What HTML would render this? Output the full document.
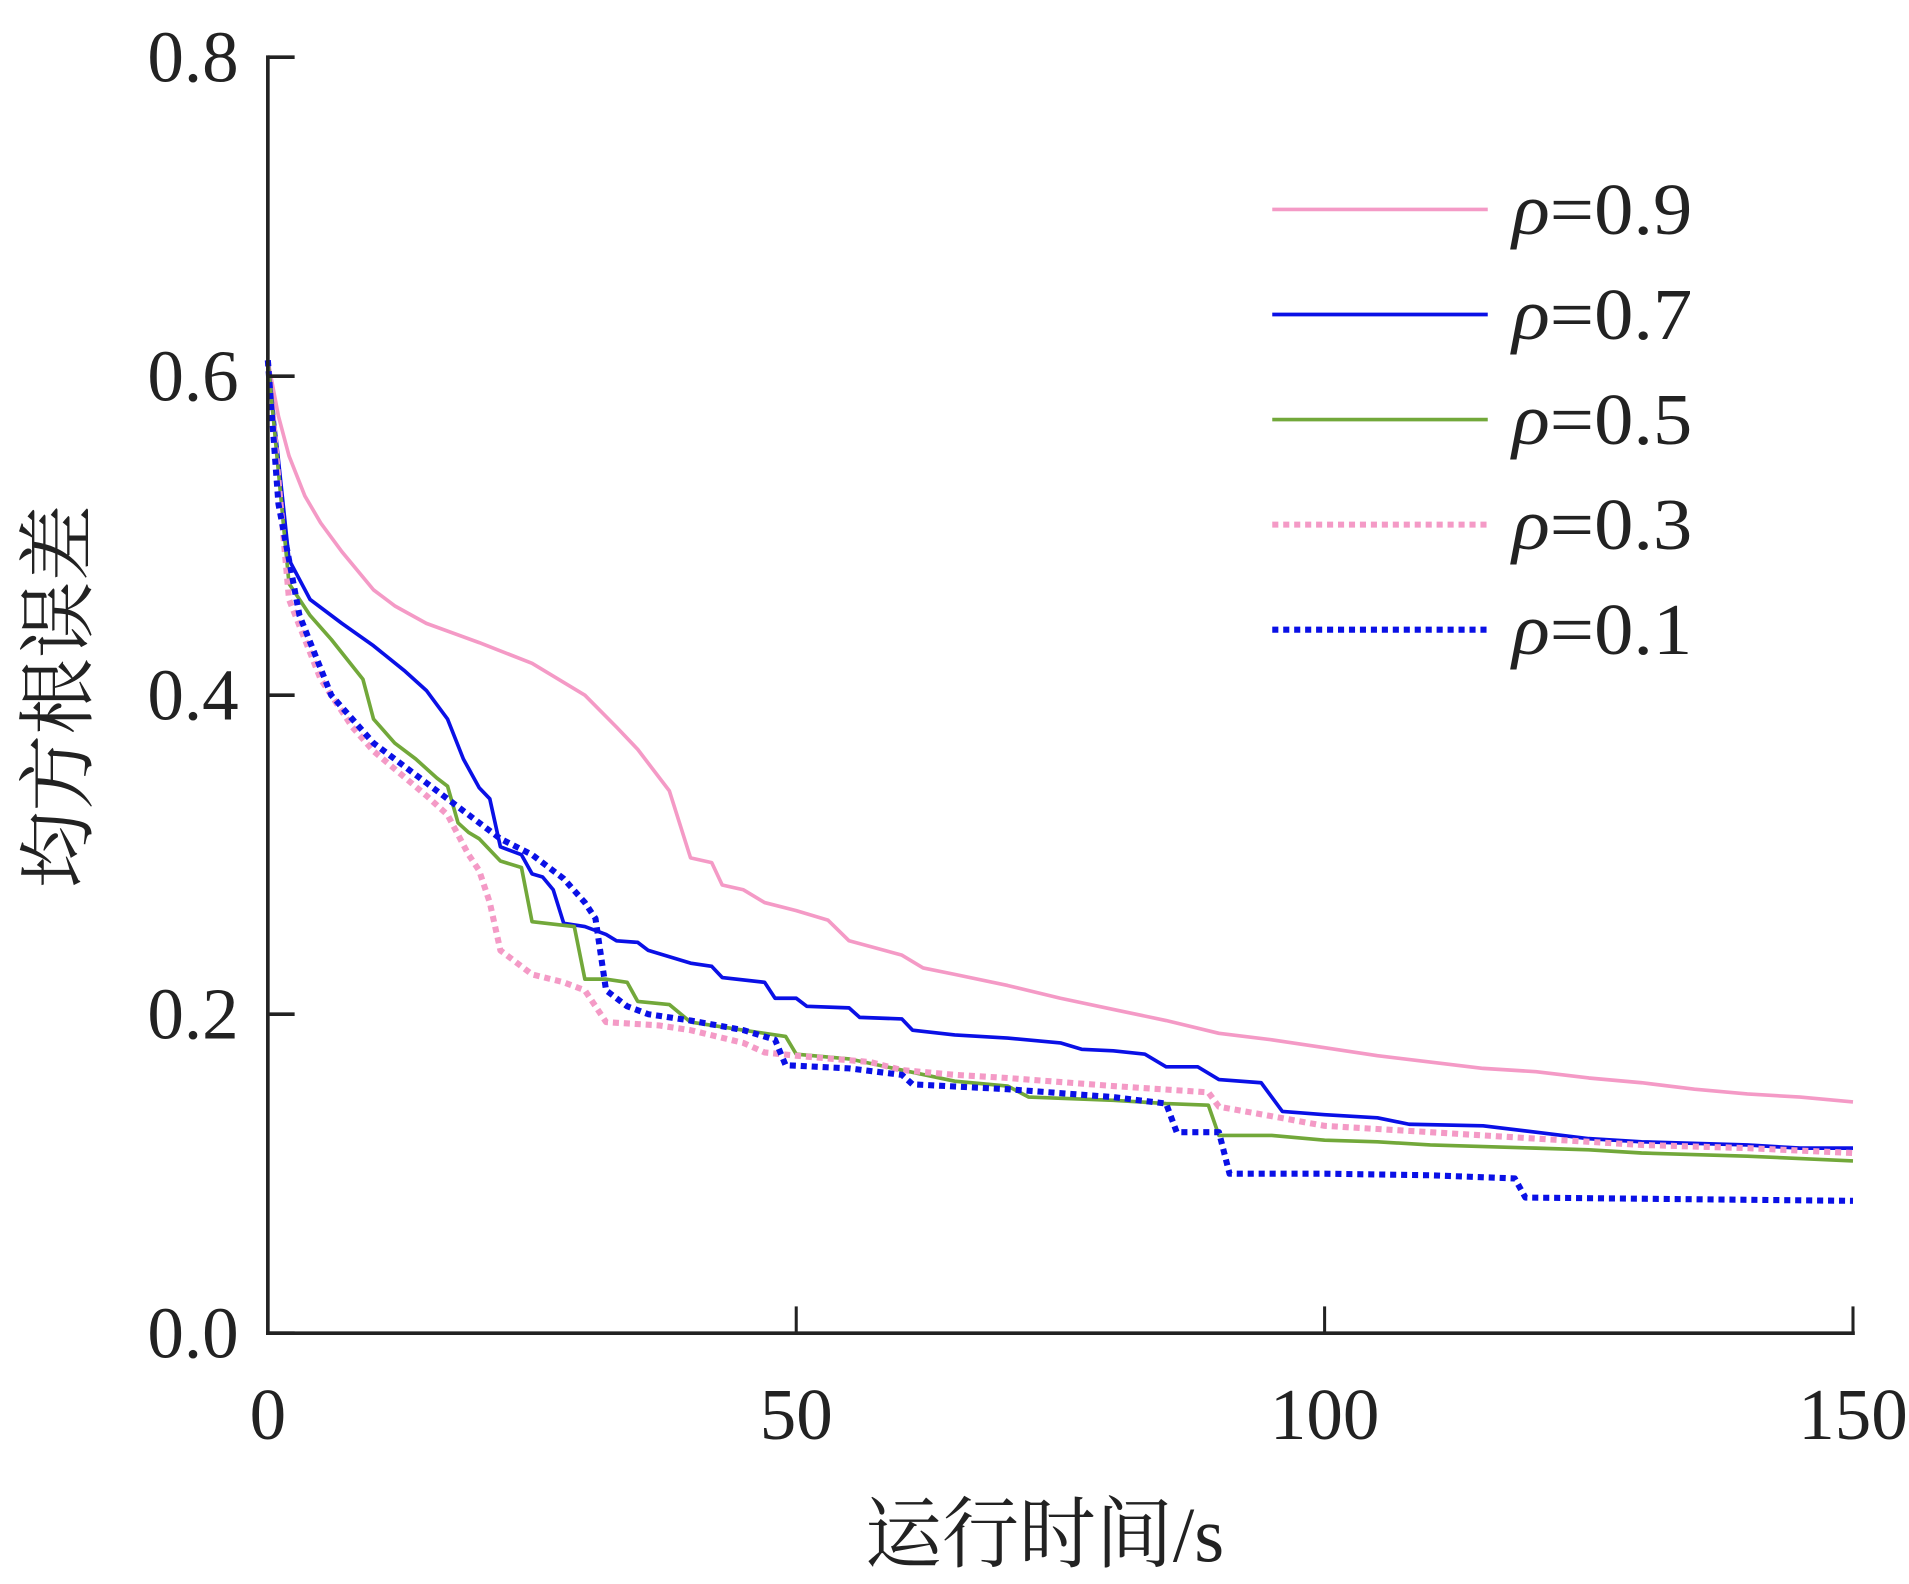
<!DOCTYPE html>
<html><head><meta charset="utf-8"><style>
html,body{margin:0;padding:0;background:#fff;width:1909px;height:1584px;overflow:hidden}
svg{display:block}
text{font-family:"Liberation Serif","Noto Serif CJK SC",serif;fill:#222}
</style></head><body>
<svg width="1909" height="1584" viewBox="0 0 1568 1301" preserveAspectRatio="none">
<g id="plot"></g>
<g id="axes"></g>
<g id="legend"></g>
</svg>
<script>
const xTicks=[0,50,100,150];
const yTicks=[0.0,0.2,0.4,0.6,0.8];
const yTickLabels=["0.0","0.2","0.4","0.6","0.8"];
const seriesNames=["ρ=0.9","ρ=0.7","ρ=0.5","ρ=0.3","ρ=0.1"];
const t09=[0,1,2,3.5,5,7,10,12,15,20,25,30,33,35,38,40,42,43,45,47,50,53,55,60,62,65,70,75,80,85,90,95,100,105,110,115,120,125,130,135,140,145,150];
const v09=[0.61,0.575,0.55,0.525,0.508,0.49,0.466,0.456,0.445,0.433,0.42,0.40,0.38,0.366,0.34,0.298,0.295,0.281,0.278,0.27,0.265,0.259,0.246,0.237,0.229,0.225,0.218,0.21,0.203,0.196,0.188,0.184,0.179,0.174,0.17,0.166,0.164,0.16,0.157,0.153,0.15,0.148,0.145];
const t07=[0,2,4,7,10,13,15,17,18.5,20,21,22,24,25,26,27,28,30,32,33,35,36,40,42,43,47,48,50,51,55,56,60,61,65,70,75,77,80,83,85,88,90,94,96,100,105,108,115,120,125,130,140,145,150];
const v07=[0.61,0.485,0.46,0.445,0.431,0.415,0.403,0.385,0.36,0.342,0.335,0.305,0.3,0.288,0.286,0.278,0.257,0.255,0.25,0.246,0.245,0.24,0.232,0.23,0.223,0.22,0.21,0.21,0.205,0.204,0.198,0.197,0.19,0.187,0.185,0.182,0.178,0.177,0.175,0.167,0.167,0.159,0.157,0.139,0.137,0.135,0.131,0.13,0.126,0.122,0.12,0.118,0.116,0.116];
const t05=[0,2,4,6,9,10,12,14,16,17,18,19,20,22,24,25,29,30,32,34,35,38,40,45,49,50,55,60,65,70,72,80,85,89,90,95,100,105,110,120,125,130,140,150];
const v05=[0.61,0.47,0.45,0.435,0.41,0.385,0.37,0.36,0.348,0.343,0.32,0.314,0.31,0.296,0.292,0.258,0.255,0.222,0.222,0.22,0.208,0.206,0.195,0.19,0.186,0.175,0.172,0.165,0.158,0.155,0.148,0.146,0.144,0.143,0.124,0.124,0.121,0.12,0.118,0.116,0.115,0.113,0.111,0.108];
const t03=[0,2,5,8,10,15,17,19,20,21,22,25,28,30,32,37,40,45,47,50,57,60,65,70,80,89,90,95,100,110,120,130,140,150];
const v03=[0.61,0.46,0.41,0.38,0.365,0.337,0.325,0.3,0.29,0.27,0.24,0.225,0.22,0.215,0.195,0.193,0.19,0.182,0.176,0.174,0.17,0.165,0.162,0.16,0.155,0.151,0.142,0.136,0.13,0.126,0.122,0.118,0.116,0.113];
const t01=[0,1,3,6,10,15,20,22,25,28,30,31,32,34,36,40,45,48,49,55,60,61,70,80,85,86,90,91,100,110,118,119,150];
const v01=[0.61,0.52,0.45,0.4,0.37,0.345,0.32,0.31,0.3,0.285,0.27,0.26,0.215,0.205,0.2,0.196,0.19,0.184,0.168,0.166,0.162,0.156,0.153,0.148,0.144,0.126,0.126,0.1,0.1,0.099,0.097,0.085,0.083];

const NS="http://www.w3.org/2000/svg";
const X0=220,X1=1522,Y0=1095,Y1=47;
const xs=t=>X0+t/150*(X1-X0);
const ys=v=>Y0-v/0.8*(Y0-Y1);
function mk(tag,attrs,parent){const e=document.createElementNS(NS,tag);for(const k in attrs)e.setAttribute(k,attrs[k]);parent.appendChild(e);return e;}
const plot=document.getElementById('plot'),axes=document.getElementById('axes'),legend=document.getElementById('legend');
const styles=[
 {t:t09,v:v09,c:"#f49ac6",w:3,d:null,n:"line-rho-0-9"},
 {t:t07,v:v07,c:"#0a10e6",w:3,d:null,n:"line-rho-0-7"},
 {t:t05,v:v05,c:"#72a83a",w:3,d:null,n:"line-rho-0-5"},
 {t:t03,v:v03,c:"#f49ac6",w:5,d:"5 4",n:"line-rho-0-3"},
 {t:t01,v:v01,c:"#0a10e6",w:5,d:"5 4",n:"line-rho-0-1"}];
styles.forEach((s,i)=>{
 const pts=s.t.map((t,j)=>xs(t).toFixed(1)+","+ys(s.v[j]).toFixed(1)).join(" ");
 const a={points:pts,fill:"none",stroke:s.c,"stroke-width":s.w,"stroke-linejoin":"round"};
 if(s.d)a["stroke-dasharray"]=s.d;
 const p=mk('polyline',a,plot);
 
 
 const ly=172+i*86.3;
 const la={x1:1045,y1:ly,x2:1222,y2:ly,stroke:s.c,"stroke-width":s.w};
 if(s.d)la["stroke-dasharray"]=s.d;
 const ll=mk('line',la,legend);
 
 
 const tx=mk('text',{x:1242,y:ly+20,"font-size":60,textLength:148,lengthAdjust:"spacingAndGlyphs"},legend);
 
 
 const parts=seriesNames[i].split("=");
 const r=mk('tspan',{"font-style":"italic"},tx);r.textContent=parts[0];
 const q=mk('tspan',{},tx);q.textContent="="+parts[1];
});
const ya=mk('line',{x1:X0,y1:Y1-1.5,x2:X0,y2:Y0+1.5,stroke:"#222","stroke-width":3},axes);


const xa=mk('line',{x1:X0-1.5,y1:Y0,x2:X1+1.5,y2:Y0,stroke:"#222","stroke-width":3},axes);


yTicks.forEach((v,i)=>{
 const y=ys(v);
 mk('line',{x1:X0,y1:y,x2:X0+22,y2:y,stroke:"#222","stroke-width":3},axes);
 const t=mk('text',{x:196,y:y+20,"font-size":60,"text-anchor":"end"},axes);
 
 
 t.textContent=yTickLabels[i];
});
xTicks.forEach(v=>{
 const x=xs(v);
 if(v>0)mk('line',{x1:x,y1:Y0,x2:x,y2:Y0-22,stroke:"#222","stroke-width":2.5},axes);
 const t=mk('text',{x:x,y:1182,"font-size":60,"text-anchor":"middle"},axes);
 
 
 t.textContent=v;
});
const xt=mk('text',{x:858,y:1282,"font-size":64,"text-anchor":"middle",textLength:295,lengthAdjust:"spacingAndGlyphs"},axes);


xt.textContent="运行时间/s";
const yt=mk('text',{x:0,y:0,"font-size":64,"text-anchor":"middle",textLength:315,lengthAdjust:"spacingAndGlyphs",transform:"translate(70,572) rotate(-90)"},axes);


yt.textContent="均方根误差";
</script>
</body></html>
